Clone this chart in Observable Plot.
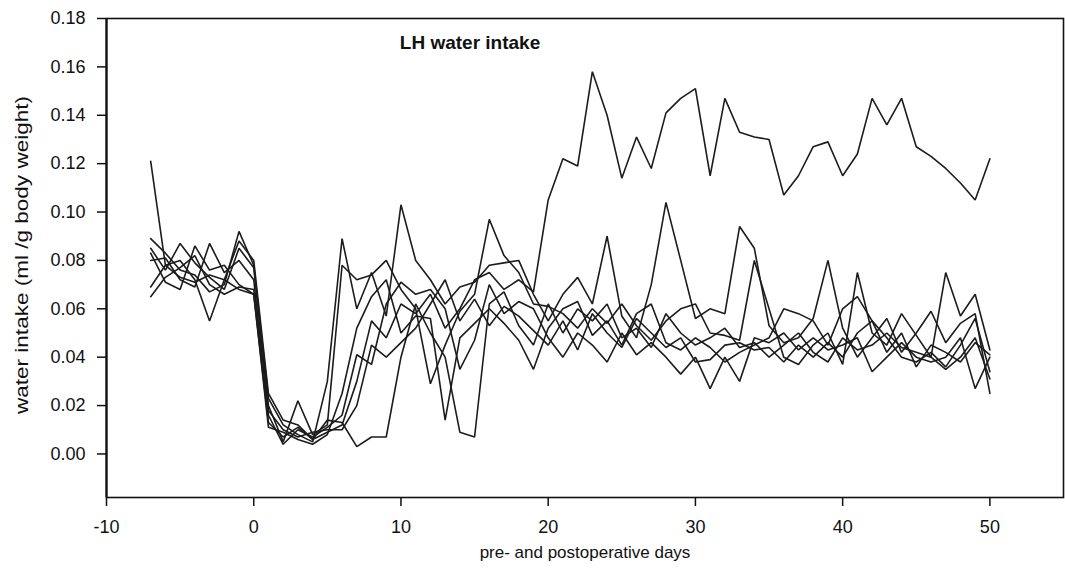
<!DOCTYPE html>
<html>
<head>
<meta charset="utf-8">
<script src="https://cdn.jsdelivr.net/npm/d3@7"></script>
<script src="https://cdn.jsdelivr.net/npm/@observablehq/plot@0.6"></script>
<style>
  html, body { margin: 0; padding: 0; background: #fff; }
  #chart svg { display: block; font-family: "Liberation Sans", Arial, sans-serif; }
</style>
</head>
<body>
<div id="chart"></div>
<script>
// Days relative to the operation (day 0)
const days = [-7, -6, -5, -4, -3, -2, -1, 0,
  1, 2, 3, 4, 5, 6, 7, 8, 9, 10,
  11, 12, 13, 14, 15, 16, 17, 18, 19, 20,
  21, 22, 23, 24, 25, 26, 27, 28, 29, 30,
  31, 32, 33, 34, 35, 36, 37, 38, 39, 40,
  41, 42, 43, 44, 45, 46, 47, 48, 49, 50];

// Water intake per animal (ml / g body weight), one value per day
const rat1 = [0.121, 0.078, 0.073, 0.071, 0.074, 0.072, 0.068, 0.066,
  0.013, 0.007, 0.011, 0.006, 0.009, 0.012, 0.030, 0.055, 0.048, 0.062,
  0.058, 0.066, 0.052, 0.060, 0.072, 0.075, 0.068, 0.072, 0.067, 0.105,
  0.122, 0.119, 0.158, 0.140, 0.114, 0.131, 0.118, 0.141, 0.147, 0.151,
  0.115, 0.147, 0.133, 0.131, 0.130, 0.107, 0.115, 0.127, 0.129, 0.115,
  0.124, 0.147, 0.136, 0.147, 0.127, 0.123, 0.118, 0.112, 0.105, 0.122];
const rat2 = [0.089, 0.083, 0.076, 0.074, 0.067, 0.070, 0.092, 0.078,
  0.023, 0.012, 0.008, 0.005, 0.030, 0.089, 0.060, 0.075, 0.057, 0.103,
  0.080, 0.072, 0.062, 0.069, 0.071, 0.078, 0.079, 0.080, 0.066, 0.055,
  0.066, 0.073, 0.062, 0.090, 0.057, 0.048, 0.070, 0.104, 0.080, 0.056,
  0.060, 0.058, 0.094, 0.085, 0.053, 0.046, 0.048, 0.056, 0.080, 0.052,
  0.040, 0.048, 0.056, 0.042, 0.050, 0.059, 0.046, 0.054, 0.058, 0.025];
const rat3 = [0.085, 0.076, 0.087, 0.079, 0.073, 0.068, 0.085, 0.077,
  0.020, 0.005, 0.022, 0.008, 0.012, 0.078, 0.072, 0.074, 0.080, 0.068,
  0.060, 0.029, 0.045, 0.059, 0.066, 0.097, 0.082, 0.075, 0.062, 0.061,
  0.058, 0.052, 0.060, 0.054, 0.062, 0.053, 0.047, 0.055, 0.060, 0.062,
  0.050, 0.049, 0.047, 0.080, 0.060, 0.040, 0.037, 0.045, 0.050, 0.037,
  0.075, 0.050, 0.045, 0.058, 0.049, 0.040, 0.075, 0.057, 0.066, 0.043];
const rat4 = [0.083, 0.071, 0.068, 0.086, 0.076, 0.078, 0.070, 0.066,
  0.011, 0.009, 0.006, 0.004, 0.008, 0.025, 0.052, 0.065, 0.072, 0.050,
  0.057, 0.056, 0.014, 0.048, 0.054, 0.060, 0.054, 0.047, 0.035, 0.052,
  0.060, 0.063, 0.049, 0.055, 0.045, 0.058, 0.062, 0.046, 0.043, 0.048,
  0.044, 0.038, 0.042, 0.045, 0.048, 0.060, 0.058, 0.055, 0.045, 0.060,
  0.065, 0.055, 0.048, 0.040, 0.038, 0.042, 0.036, 0.045, 0.056, 0.034];
const rat5 = [0.080, 0.081, 0.072, 0.069, 0.087, 0.075, 0.080, 0.072,
  0.016, 0.004, 0.010, 0.007, 0.011, 0.016, 0.041, 0.037, 0.062, 0.071,
  0.066, 0.068, 0.060, 0.035, 0.047, 0.070, 0.058, 0.063, 0.060, 0.048,
  0.040, 0.050, 0.045, 0.038, 0.050, 0.041, 0.046, 0.040, 0.033, 0.040,
  0.027, 0.040, 0.030, 0.048, 0.046, 0.050, 0.043, 0.048, 0.043, 0.045,
  0.048, 0.034, 0.040, 0.046, 0.040, 0.038, 0.040, 0.048, 0.027, 0.040];
const rat6 = [0.069, 0.078, 0.080, 0.072, 0.055, 0.072, 0.088, 0.080,
  0.025, 0.014, 0.012, 0.006, 0.014, 0.013, 0.003, 0.007, 0.007, 0.040,
  0.062, 0.050, 0.040, 0.009, 0.007, 0.062, 0.067, 0.053, 0.045, 0.062,
  0.050, 0.060, 0.055, 0.062, 0.048, 0.052, 0.044, 0.058, 0.050, 0.045,
  0.048, 0.052, 0.044, 0.046, 0.040, 0.045, 0.050, 0.042, 0.038, 0.048,
  0.043, 0.045, 0.050, 0.044, 0.042, 0.040, 0.035, 0.040, 0.048, 0.031];
const rat7 = [0.065, 0.073, 0.077, 0.082, 0.070, 0.066, 0.069, 0.068,
  0.018, 0.010, 0.007, 0.009, 0.010, 0.010, 0.020, 0.045, 0.040, 0.046,
  0.052, 0.062, 0.072, 0.055, 0.064, 0.053, 0.061, 0.057, 0.051, 0.045,
  0.055, 0.043, 0.058, 0.050, 0.044, 0.056, 0.050, 0.044, 0.048, 0.038,
  0.039, 0.045, 0.046, 0.043, 0.044, 0.038, 0.045, 0.040, 0.046, 0.040,
  0.050, 0.055, 0.042, 0.050, 0.036, 0.045, 0.042, 0.038, 0.046, 0.041];

const animals = ["rat1", "rat2", "rat3", "rat4", "rat5", "rat6", "rat7"];
const intake = [rat1, rat2, rat3, rat4, rat5, rat6, rat7];

const xTicks = [-10, 0, 10, 20, 30, 40, 50];
const yTicks = [0, 0.02, 0.04, 0.06, 0.08, 0.10, 0.12, 0.14, 0.16, 0.18];

const titleText = "LH water intake";
const xLabel = "pre- and postoperative days";
const yLabel = "water intake (ml /g body weight)";

// Long-format table: one row per animal per day
const rows = animals.flatMap((name, i) =>
  days.map((day, j) => ({animal: name, day, value: intake[i][j]}))
);

const font = "'Liberation Sans', Arial, sans-serif";

const chart = Plot.plot({
  width: 1065,
  height: 575,
  marginLeft: 106,
  marginRight: 2,
  marginTop: 18,
  marginBottom: 78,
  style: {fontFamily: font, color: "#111", background: "#fff"},
  x: {domain: [-10, 55]},
  y: {domain: [-0.018, 0.18]},
  marks: [
    Plot.frame({stroke: "#111", strokeWidth: 1.6}),
    Plot.ruleX([-10], {stroke: "#111", strokeWidth: 2.2}),
    Plot.axisX({
      ticks: xTicks, tickSize: 9, tickPadding: 14, fontSize: 18,
      strokeWidth: 1.5, tickFormat: (d) => String(d), label: null
    }),
    Plot.axisY({
      ticks: yTicks, tickSize: 9, tickPadding: 12, fontSize: 18,
      strokeWidth: 1.5, tickFormat: d3.format(".2f"), label: null
    }),
    Plot.line(rows, {
      x: "day", y: "value", z: "animal",
      stroke: "#1c1c1c", strokeWidth: 1.6, strokeLinejoin: "miter"
    }),
    Plot.text([titleText], {
      frameAnchor: "top", dx: -115, dy: 24, lineAnchor: "middle",
      fontSize: 19, fontWeight: "bold", fill: "#111"
    }),
    Plot.text([xLabel], {
      frameAnchor: "bottom", dy: 55, lineAnchor: "middle",
      fontSize: 17, fill: "#111"
    }),
    Plot.text([yLabel], {
      frameAnchor: "left", dx: -84, dy: -3, rotate: -90,
      textAnchor: "middle", lineAnchor: "middle",
      fontSize: 18, fill: "#111"
    })
  ]
});

// The y-axis title is set in a tall, narrow face: stretch it along its run
chart.querySelectorAll("text").forEach((t) => {
  if (t.textContent === yLabel) {
    t.setAttribute("textLength", 318);
    t.setAttribute("lengthAdjust", "spacingAndGlyphs");
  }
});

document.getElementById("chart").append(chart);
</script>
</body>
</html>
